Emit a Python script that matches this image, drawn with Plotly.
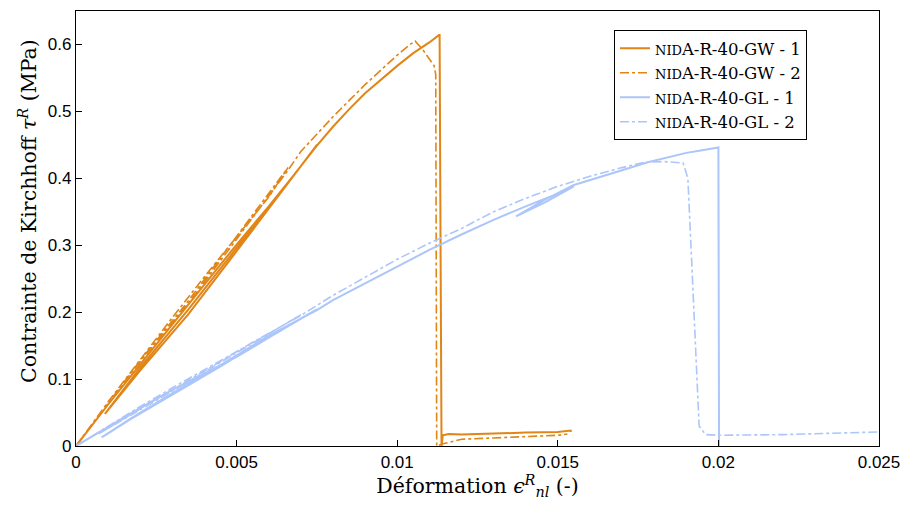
import plotly.graph_objects as go

# ---------------- data ----------------
gw1_x = [0, 0.0005, 0.001, 0.002, 0.003, 0.004, 0.005, 0.006, 0.007, 0.0075,
         0.0065, 0.005, 0.0035, 0.002, 0.0009,
         0.002, 0.0035, 0.005, 0.0065, 0.0075,
         0.008, 0.0085, 0.009, 0.0095, 0.010, 0.0105, 0.011, 0.0113,
         0.01132, 0.01135, 0.01138, 0.01142, 0.0116, 0.012, 0.013, 0.014, 0.015, 0.0154, 0.01541]
gw1_y = [0, 0.031, 0.062, 0.122, 0.182, 0.242, 0.301, 0.358, 0.418, 0.45,
         0.386, 0.291, 0.197, 0.113, 0.048,
         0.117, 0.204, 0.296, 0.389, 0.449,
         0.477, 0.503, 0.527, 0.548, 0.568, 0.587, 0.603, 0.614,
         0.614, 0.30, 0.0, 0.016, 0.018, 0.017, 0.019, 0.020, 0.021, 0.023, 0.021]

gw2_x = [0, 0.0005, 0.001, 0.002, 0.003, 0.004, 0.005, 0.006, 0.0066,
         0.005, 0.0035, 0.002, 0.0009,
         0.002, 0.0035, 0.005, 0.0066,
         0.007, 0.008, 0.009, 0.0095, 0.010, 0.0104, 0.01056, 0.0108, 0.0110, 0.01115, 0.0112,
         0.01121, 0.01123, 0.0114, 0.0118, 0.012, 0.013, 0.014, 0.015, 0.0153]
gw2_y = [0, 0.033, 0.066, 0.129, 0.192, 0.253, 0.313, 0.372, 0.416,
         0.313, 0.217, 0.128, 0.057,
         0.126, 0.213, 0.309, 0.412,
         0.44, 0.492, 0.54, 0.562, 0.584, 0.600, 0.605, 0.592, 0.578, 0.568, 0.555,
         0.30, 0.0, 0.003, 0.008, 0.010, 0.012, 0.014, 0.016, 0.018]

gl1_x = [0, 0.001, 0.002, 0.003, 0.004, 0.005, 0.006, 0.007, 0.0075,
         0.006, 0.0045, 0.003, 0.0017, 0.0008,
         0.0017, 0.003, 0.0045, 0.006, 0.0075,
         0.008, 0.009, 0.010, 0.011, 0.012, 0.013, 0.014, 0.015, 0.0155,
         0.0146, 0.0137,
         0.0146, 0.0155,
         0.016, 0.017, 0.0178, 0.0186, 0.019, 0.0195, 0.01996, 0.0200, 0.02002]
gl1_y = [0, 0.029, 0.057, 0.084, 0.108, 0.133, 0.162, 0.190, 0.204,
         0.163, 0.119, 0.077, 0.040, 0.013,
         0.041, 0.079, 0.121, 0.165, 0.203,
         0.218, 0.243, 0.268, 0.293, 0.316, 0.338, 0.358, 0.377, 0.388,
         0.364, 0.343,
         0.368, 0.390,
         0.397, 0.412, 0.424, 0.434, 0.438, 0.442, 0.446, 0.446, 0.0]

gl2_x = [0, 0.001, 0.002, 0.003, 0.004, 0.005, 0.006, 0.007,
         0.0055, 0.004, 0.0025, 0.0007,
         0.0025, 0.004, 0.0055, 0.007,
         0.008, 0.009, 0.010, 0.011, 0.012, 0.013, 0.014, 0.015, 0.016, 0.017, 0.0177,
         0.0183, 0.0189, 0.01905, 0.0192, 0.0194, 0.0196, 0.020, 0.022, 0.024, 0.025]
gl2_y = [0, 0.030, 0.059, 0.087, 0.114, 0.140, 0.168, 0.196,
         0.153, 0.110, 0.068, 0.018,
         0.070, 0.112, 0.155, 0.195,
         0.225, 0.252, 0.279, 0.303, 0.325, 0.350, 0.370, 0.388, 0.403, 0.416, 0.424,
         0.425, 0.423, 0.40, 0.25, 0.03, 0.017, 0.016, 0.017, 0.019, 0.021]

series_names = ["<span style='font-size:13px'>NID</span>A-R-40-GW - 1",
                "<span style='font-size:13px'>NID</span>A-R-40-GW - 2",
                "<span style='font-size:13px'>NID</span>A-R-40-GL - 1",
                "<span style='font-size:13px'>NID</span>A-R-40-GL - 2"]

x_ticks = [0, 0.005, 0.01, 0.015, 0.02, 0.025]
x_ticklabels = ["0", "0.005", "0.01", "0.015", "0.02", "0.025"]
y_ticks = [0, 0.1, 0.2, 0.3, 0.4, 0.5, 0.6]
y_ticklabels = ["0", "0.1", "0.2", "0.3", "0.4", "0.5", "0.6"]

x_title = "Déformation <i>ϵ</i><sup><i>R</i></sup><sub><i>nl</i></sub> (-)"
y_title = "Contrainte de Kirchhoff <i>τ</i><sup><i>R</i></sup> (MPa)"

ORANGE = "rgb(224,133,22)"
BLUE = "rgb(172,197,250)"
SERIF = "DejaVu Serif, serif"

fig = go.Figure()
fig.add_trace(go.Scatter(x=gw1_x, y=gw1_y, mode="lines", name=series_names[0],
                         line=dict(color=ORANGE, width=2)))
fig.add_trace(go.Scatter(x=gw2_x, y=gw2_y, mode="lines", name=series_names[1],
                         line=dict(color=ORANGE, width=1.6, dash="dashdot")))
fig.add_trace(go.Scatter(x=gl1_x, y=gl1_y, mode="lines", name=series_names[2],
                         line=dict(color=BLUE, width=2)))
fig.add_trace(go.Scatter(x=gl2_x, y=gl2_y, mode="lines", name=series_names[3],
                         line=dict(color=BLUE, width=1.6, dash="dashdot")))

axis_common = dict(showline=True, linecolor="black", linewidth=1.3, mirror=True,
                   ticks="inside", ticklen=6, tickcolor="black", showgrid=False,
                   zeroline=False, tickfont=dict(family="Liberation Sans, Arial", size=17, color="black"))

fig.update_layout(
    width=909, height=506,
    margin=dict(l=68, r=38, t=3, b=68),
    paper_bgcolor="white", plot_bgcolor="white",
    font=dict(family=SERIF, color="black"),
    xaxis=dict(range=[0, 0.025], tickvals=x_ticks, ticktext=x_ticklabels,
               title=dict(text=x_title, font=dict(size=20.5), standoff=0),
               **axis_common),
    yaxis=dict(range=[0, 0.65], tickvals=y_ticks, ticktext=y_ticklabels,
               **axis_common),
    legend=dict(x=0.67, y=0.956, xanchor="left", yanchor="top",
                bgcolor="white", bordercolor="black", borderwidth=1,
                font=dict(family=SERIF, size=16.5, color="black"),
                tracegroupgap=0, itemwidth=30),
    showlegend=True,
)

fig.add_annotation(text=y_title, textangle=-90, xref="paper", yref="paper",
                   x=-0.06, y=0.54, xanchor="center", yanchor="middle",
                   showarrow=False, font=dict(family=SERIF, size=20.5, color="black"))

fig.write_html("out.html")
